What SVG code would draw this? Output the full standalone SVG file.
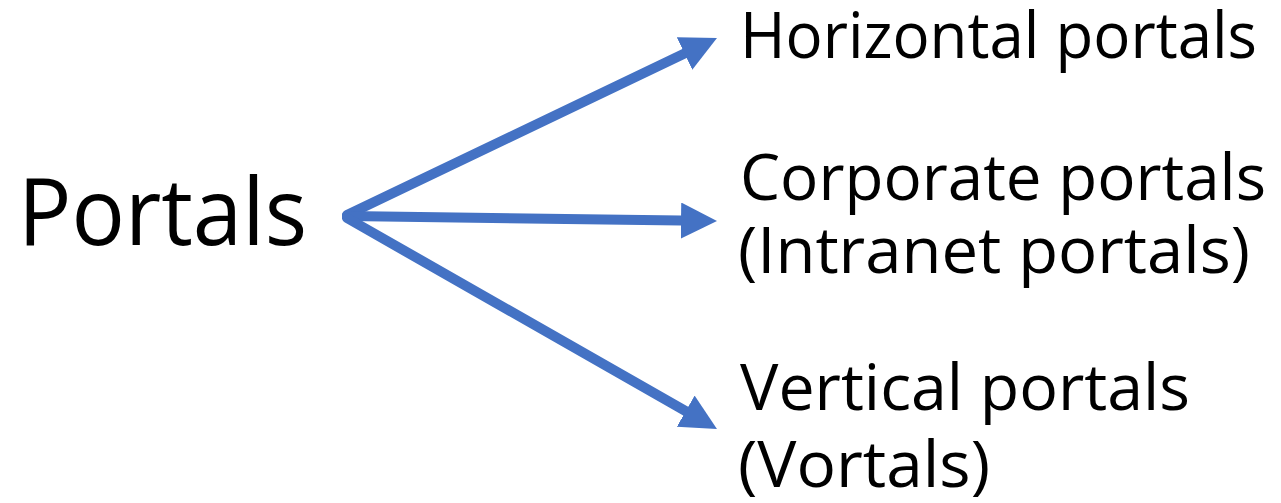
<svg xmlns="http://www.w3.org/2000/svg" width="1281" height="503" viewBox="0 0 1281 503">
  <style>
    .label { font-family: "Open Sans", "Liberation Sans", sans-serif; fill: #000; }
    .edge { stroke: #4472C4; stroke-width: 10; fill: none; stroke-linecap: round; }
  </style>
  <defs>
    <marker id="head" markerUnits="userSpaceOnUse" markerWidth="40" markerHeight="40" refX="0" refY="18" orient="auto">
      <path d="M0,0 L36,18 L0,36 z" fill="#4472C4"/>
    </marker>
  </defs>
  <rect width="1281" height="503" fill="#fff"/>

  <g id="connectors">
    <line class="edge" x1="347" y1="215" x2="684.5" y2="53.5" marker-end="url(#head)"/>
    <line class="edge" x1="347" y1="216" x2="681" y2="220.5" marker-end="url(#head)"/>
    <line class="edge" x1="347" y1="218" x2="685.7" y2="411.2" marker-end="url(#head)"/>
  </g>

  <g id="portals">
    <text class="label" x="18" y="245" font-size="94" textLength="289" lengthAdjust="spacingAndGlyphs">Portals</text>
  </g>
  <g id="horizontal">
    <text class="label" x="740" y="58" font-size="64" textLength="517" lengthAdjust="spacingAndGlyphs">Horizontal portals</text>
  </g>
  <g id="corporate">
    <text class="label" x="740" y="200" font-size="64" textLength="526" lengthAdjust="spacingAndGlyphs">Corporate portals</text>
    <text class="label" x="738" y="273" font-size="64" textLength="512" lengthAdjust="spacingAndGlyphs">(Intranet portals)</text>
  </g>
  <g id="vertical">
    <text class="label" x="740" y="410" font-size="64" textLength="450" lengthAdjust="spacingAndGlyphs">Vertical portals</text>
    <text class="label" x="738" y="487" font-size="64" textLength="252" lengthAdjust="spacingAndGlyphs">(Vortals)</text>
  </g>
</svg>
